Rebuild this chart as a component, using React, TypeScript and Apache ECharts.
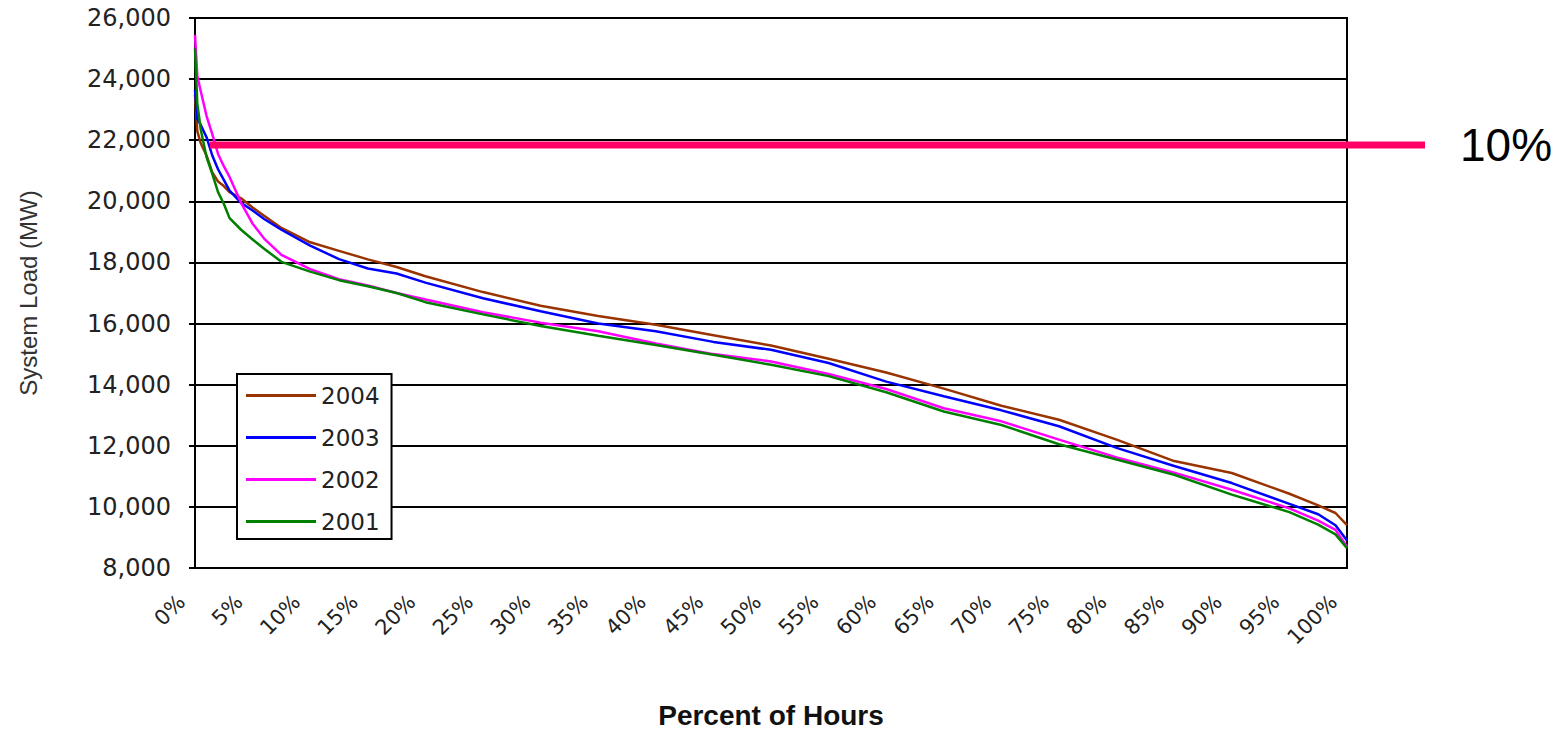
import React, { useEffect, useRef } from "react";
import * as echarts from "echarts";

// Percent of hours (x positions of the sampled points)
const PCT_HOURS = [0, 0.2, 0.5, 1, 1.5, 2, 2.5, 3, 4, 5, 6, 7.5, 10, 12.5, 15, 17.5, 20, 25, 30, 35, 40, 45, 50, 55, 60, 65, 70, 75, 80, 85, 90, 95, 97.5, 99, 100];

// System load (MW) per year
const LOAD_2004 = [23500, 22300, 21900, 21500, 20950, 20650, 20500, 20300, 20100, 19800, 19530, 19130, 18660, 18380, 18100, 17850, 17550, 17030, 16580, 16250, 15960, 15620, 15280, 14850, 14400, 13870, 13310, 12850, 12200, 11500, 11110, 10430, 10050, 9800, 9400];
const LOAD_2003 = [23650, 22700, 22500, 22100, 21500, 21050, 20700, 20350, 19950, 19700, 19420, 19070, 18550, 18110, 17800, 17640, 17340, 16830, 16400, 16000, 15750, 15400, 15140, 14710, 14100, 13620, 13160, 12640, 11930, 11340, 10780, 10100, 9760, 9400, 8900];
const LOAD_2002 = [25450, 24100, 23600, 22800, 22200, 21550, 21150, 20800, 19950, 19270, 18780, 18250, 17780, 17450, 17250, 17000, 16790, 16370, 16030, 15750, 15350, 15000, 14760, 14350, 13860, 13230, 12800, 12200, 11620, 11120, 10560, 9950, 9550, 9250, 8700];
const LOAD_2001 = [25000, 23200, 22350, 21450, 20900, 20300, 19920, 19450, 19070, 18750, 18450, 18020, 17700, 17420, 17220, 17000, 16700, 16300, 15920, 15600, 15300, 14980, 14650, 14280, 13750, 13120, 12680, 12050, 11550, 11050, 10400, 9830, 9420, 9100, 8650];

const SERIES_NAMES = ["2004", "2003", "2002", "2001"];
const SERIES_COLORS = ["#993300", "#0000FF", "#FF00FF", "#008000"];

const Y_MIN = 8000;
const Y_MAX = 26000;
const Y_STEP = 2000;
const X_MIN = 0;
const X_MAX = 100;
const X_STEP = 5;

// 10% threshold annotation
const THRESHOLD_LOAD = 21830;
const THRESHOLD_START_PCT = 1.3;
const THRESHOLD_LABEL = "10%";

const fmtThousands = (v: number) => String(v).replace(/\B(?=(\d{3})+(?!\d))/g, ",");

export default function App() {
  const ref = useRef<HTMLDivElement>(null);

  useEffect(() => {
    if (!ref.current) return;
    const chart = echarts.init(ref.current, null, { renderer: "svg" });
    const loads = [LOAD_2004, LOAD_2003, LOAD_2002, LOAD_2001];

    const option: any = {
      animation: false,
      backgroundColor: "#ffffff",
      grid: {
        left: 195,
        right: 221,
        top: 18,
        bottom: 161,
        show: true,
        borderColor: "#000",
        borderWidth: 2,
        backgroundColor: "transparent",
        containLabel: false,
        outerBoundsMode: "none",
      },
      xAxis: {
        type: "value",
        min: X_MIN,
        max: X_MAX,
        interval: X_STEP,
        name: "Percent of Hours",
        nameLocation: "middle",
        nameGap: 133,
        nameTextStyle: {
          fontFamily: "Liberation Sans, Arial, sans-serif",
          fontSize: 28,
          fontWeight: "bold",
          color: "#111",
        },
        axisLine: { show: true, lineStyle: { color: "#000", width: 2 } },
        axisTick: { show: false },
        splitLine: { show: false },
        axisLabel: {
          rotate: 45,
          formatter: "{value}%",
          margin: 17,
          padding: [0, 19, 0, 0],
          fontFamily: "DejaVu Sans, sans-serif",
          fontSize: 21,
          color: "#222",
        },
      },
      yAxis: {
        type: "value",
        min: Y_MIN,
        max: Y_MAX,
        interval: Y_STEP,
        name: "System Load (MW)",
        nameLocation: "middle",
        nameGap: 155,
        nameTextStyle: {
          fontFamily: "Liberation Sans, Arial, sans-serif",
          fontSize: 24,
          color: "#333",
        },
        axisLine: { show: true, lineStyle: { color: "#000", width: 2 } },
        axisTick: { show: true, length: 6, lineStyle: { color: "#000", width: 2 } },
        splitLine: { show: true, lineStyle: { color: "#000", width: 2 } },
        axisLabel: {
          margin: 24,
          formatter: (v: number) => fmtThousands(v),
          fontFamily: "DejaVu Sans, sans-serif",
          fontSize: 24,
          color: "#222",
        },
      },
      legend: {
        data: SERIES_NAMES,
        orient: "vertical",
        left: 237,
        top: 374,
        icon: "rect",
        itemWidth: 70,
        itemHeight: 3,
        itemGap: 19,
        padding: [10, 12, 6, 9],
        borderColor: "#000",
        borderWidth: 2,
        backgroundColor: "#fff",
        textStyle: {
          fontFamily: "DejaVu Sans, sans-serif",
          fontSize: 23,
          color: "#222",
        },
      },
      series: SERIES_NAMES.map((name, i) => ({
        name,
        type: "line",
        showSymbol: false,
        symbol: "none",
        color: SERIES_COLORS[i],
        lineStyle: { color: SERIES_COLORS[i], width: 2.5 },
        data: PCT_HOURS.map((p, j) => [p, loads[i][j]]),
        z: 3,
      })),
    };

    chart.setOption(option);

    const pt = chart.convertToPixel({ gridIndex: 0 }, [THRESHOLD_START_PCT, THRESHOLD_LOAD]) as number[];
    const y = Math.round(pt[1]);
    chart.setOption({
      graphic: [
        {
          type: "line",
          z: 10,
          shape: { x1: pt[0], y1: y, x2: 1425, y2: y },
          style: { stroke: "#FF0066", lineWidth: 7 },
        },
        {
          type: "text",
          z: 10,
          x: 1460,
          y: y,
          style: {
            text: THRESHOLD_LABEL,
            fontSize: 46,
            fontFamily: "Liberation Sans, Arial, sans-serif",
            fill: "#000",
            verticalAlign: "middle",
            align: "left",
          },
        },
      ],
    });

    return () => chart.dispose();
  }, []);

  return (
    <div
      ref={ref}
      style={{ position: "absolute", left: 0, top: 0, width: 1568, height: 729 }}
    />
  );
}
